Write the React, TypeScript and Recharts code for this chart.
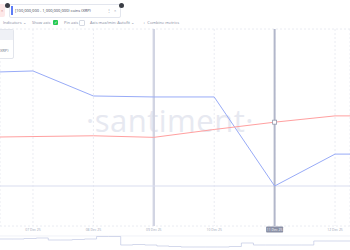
import React from 'react';
import { LineChart, Line, XAxis, YAxis, CartesianGrid, ReferenceLine } from 'recharts';

// day of month (Dec 2025)
const days = [6, 7, 8, 9, 10, 11, 12, 13];
// both series normalised to the hidden 0-100 axis
const coinsHeld = [77.8, 78.7, 66.0, 65.5, 65.5, 20.3, 36.5, 36.5];
const xrpPrice = [45.0, 45.4, 45.8, 45.0, 49.0, 52.7, 55.9, 55.9];

const tickDays = [7, 8, 9, 10, 11, 12];
const tickLabels = ['07 Dec 25', '08 Dec 25', '09 Dec 25', '10 Dec 25', '11 Dec 25', '12 Dec 25'];
const gridTicks = [12.5, 25, 37.5, 50, 62.5, 75, 87.5, 100];

const selectedDay = 9;
const hoverDay = 11;

// navigator overview line
const navValues = [11, 11, 11.5, 12, 10, 10, 10.5, 11, 13.5, 13.5, 5, 5.5, 5, 4, 3.5, 3, 3, 3, 3, 3.5, 7, 5, 5, 5, 5, 5, 9, 9, 9, 9];

const data = days.map((d, i) => ({ day: d, coins: coinsHeld[i], price: xrpPrice[i] }));
const navData = navValues.map((v, i) => ({ i, v }));

const font = '"Open Sans", "Noto Sans", sans-serif';
const muted = '#7f889e';

function DayTick(props: any) {
  const { x, y, payload } = props;
  const idx = tickDays.indexOf(payload.value);
  const label = tickLabels[idx] ?? '';
  if (payload.value === hoverDay) {
    return (
      <g>
        <rect x={x - 8.5} y={y + 0.5} width={17} height={6} rx={0.8} fill="#8a90a6" />
        <text x={x} y={y + 3.6} textAnchor="middle" dominantBaseline="middle" fontSize={3.4} fill="#fff" fontFamily={font}>
          {label}
        </text>
      </g>
    );
  }
  return (
    <text x={x} y={y + 3.6} textAnchor="middle" dominantBaseline="middle" fontSize={3.4} fill="#a0a7b8" fontFamily={font}>
      {label}
    </text>
  );
}

function HoverDot(props: any) {
  const { cx, cy, payload, index } = props;
  if (payload.day !== hoverDay) return <g key={index} />;
  return <rect key={index} x={cx - 2} y={cy - 2} width={4} height={4} fill="#fff" stroke="#9297ab" strokeWidth={0.8} />;
}

export default function App() {
  const txt: React.CSSProperties = { position: 'absolute', fontSize: 4, color: muted, whiteSpace: 'nowrap', lineHeight: '5px' };
  return (
    <div style={{ position: 'fixed', left: 0, top: 0, width: 350, height: 250, background: '#fff', overflow: 'hidden', fontFamily: font }}>
      {/* watermark */}
      <svg width={350} height={250} style={{ position: 'absolute', left: 0, top: 0 }}>
        <text x={170} y={132} textAnchor="middle" fontSize={31} fill="#e7e9f1" fontFamily={font} letterSpacing={0.5}>
          ·santiment·
        </text>
      </svg>

      <div style={{ position: 'absolute', left: 0, top: 0 }}>
        <LineChart width={350} height={240} data={data} margin={{ top: 29, right: 0, bottom: 0, left: 0 }}>
          <CartesianGrid stroke="#eaecf2" strokeDasharray="2 2" />
          <XAxis
            dataKey="day"
            type="number"
            domain={[6.454, 12.248]}
            allowDataOverflow
            ticks={tickDays}
            axisLine={false}
            tickLine={false}
            tickSize={0}
            tickMargin={0}
            height={14}
            interval={0}
            tick={<DayTick />}
          />
          <YAxis width={0} domain={[0, 100]} ticks={gridTicks} tick={false} axisLine={false} tickLine={false} />
          <ReferenceLine x={selectedDay} stroke="#d2d5e3" strokeWidth={2.4} />
          <ReferenceLine y={20.3} stroke="#d9ddf0" strokeWidth={1.1} />
          <ReferenceLine x={hoverDay} stroke="#b2b7ca" strokeWidth={2} />
          <Line type="linear" dataKey="coins" stroke="#98abf7" strokeWidth={1} dot={false} isAnimationActive={false} />
          <Line type="linear" dataKey="price" stroke="#ffa0a0" strokeWidth={1} dot={<HoverDot />} activeDot={false} isAnimationActive={false} />
        </LineChart>
      </div>

      {/* navigator */}
      <div style={{ position: 'absolute', left: 0, top: 233 }}>
        <LineChart width={350} height={17} data={navData} margin={{ top: 0, right: 0, bottom: 0, left: 0 }}>
          <XAxis dataKey="i" hide />
          <YAxis domain={[0, 17]} hide />
          <ReferenceLine y={14} stroke="#e6e9f3" strokeWidth={0.6} />
          <Line type="stepAfter" dataKey="v" stroke="#c2c8e4" strokeWidth={0.7} dot={false} isAnimationActive={false} />
        </LineChart>
      </div>

      {/* top bar */}
      <div style={{ position: 'absolute', left: -2, top: 4, width: 7, height: 13, background: '#fde8e8', borderRadius: 2 }} />
      <div style={{ ...txt, left: 1, top: 8, color: '#c77' }}>×</div>
      <div style={{ position: 'absolute', left: 9, top: 4, width: 110, height: 12, border: '0.6px solid #e3e6ee', borderRadius: 2, background: '#fff' }} />
      <div style={{ position: 'absolute', left: 11, top: 6, width: 1.5, height: 9, background: '#5d7cf6' }} />
      <div style={{ ...txt, left: 15, top: 8, color: '#3d4456' }}>[100,000,000 - 1,000,000,000) coins (XRP)</div>
      <div style={{ ...txt, left: 107, top: 8, color: '#9aa1b3' }}>⋮</div>
      <div style={{ ...txt, left: 114, top: 8, color: '#9aa1b3' }}>×</div>
      <div style={{ position: 'absolute', left: 4.5, top: 2.5, width: 5, height: 5, borderRadius: 3, background: '#3a3d45' }} />
      <div style={{ position: 'absolute', left: 118.5, top: 2.5, width: 5, height: 5, borderRadius: 3, background: '#3a3d45' }} />

      {/* controls row */}
      <div style={{ ...txt, left: 3, top: 20 }}>Indicators ⌄</div>
      <div style={{ ...txt, left: 32, top: 20 }}>Show axis</div>
      <div style={{ position: 'absolute', left: 53, top: 20, width: 5, height: 5, borderRadius: 1, background: '#26c953', color: '#fff', fontSize: 4, lineHeight: '5px', textAlign: 'center' }}>✓</div>
      <div style={{ ...txt, left: 64, top: 20 }}>Pin axis</div>
      <div style={{ position: 'absolute', left: 78.5, top: 20, width: 4, height: 4, borderRadius: 1, border: '0.6px solid #d6dae3' }} />
      <div style={{ ...txt, left: 90, top: 20 }}>Axis max/min: Autofit ⌄</div>
      <div style={{ ...txt, left: 143, top: 20 }}>+ &nbsp;Combine metrics</div>

      {/* partially hidden legend popup */}
      <div style={{ position: 'absolute', left: -2, top: 29, width: 14, height: 28, border: '0.6px solid #e2e5ec', borderRadius: 2, background: '#fff', overflow: 'hidden' }}>
        <div style={{ height: 10, background: '#eff1f6' }} />
      </div>
      <div style={{ ...txt, left: 0, top: 48, color: '#6b7388' }}>XRP)</div>
    </div>
  );
}
